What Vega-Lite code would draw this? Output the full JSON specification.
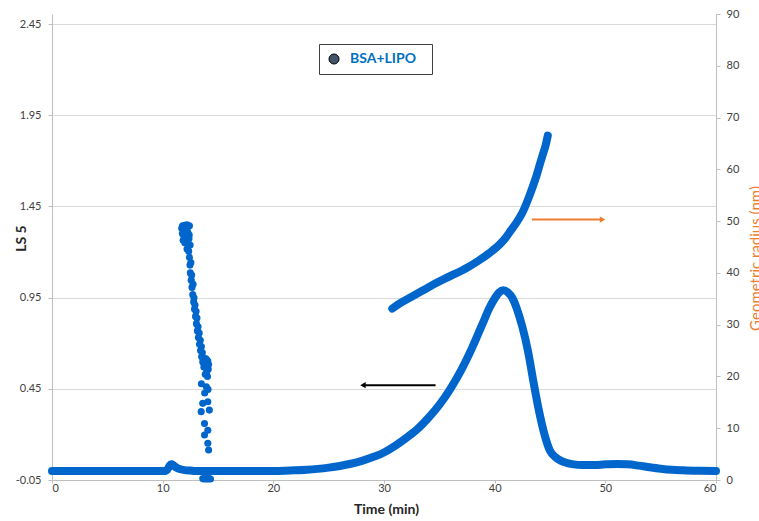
{
  "$schema": "https://vega.github.io/schema/vega-lite/v6.json",
  "width": 664,
  "height": 466,
  "autosize": {"type": "none"},
  "padding": {"left": 52, "top": 14, "right": 43, "bottom": 41},
  "background": "white",
  "config": {
    "view": {"stroke": null},
    "font": "Lato",
    "axis": {
      "labelFont": "Lato",
      "labelFontSize": 11,
      "labelColor": "#404040",
      "titleFont": "Lato",
      "domainColor": "#bfbfbf",
      "tickColor": "#bfbfbf",
      "tickSize": 4,
      "gridColor": "#d9d9d9",
      "gridWidth": 1
    }
  },
  "datasets": {
    "ls5": [
      {"t": 0, "v": 0}, {"t": 5, "v": 0}, {"t": 10, "v": 0}, {"t": 10.3, "v": 0.0},
      {"t": 10.5, "v": 0.015}, {"t": 10.65, "v": 0.03}, {"t": 10.8, "v": 0.036}, {"t": 10.95, "v": 0.032},
      {"t": 11.1, "v": 0.024}, {"t": 11.3, "v": 0.016}, {"t": 11.6, "v": 0.009}, {"t": 12.0, "v": 0.004},
      {"t": 12.5, "v": 0.002}, {"t": 13, "v": 0}, {"t": 15, "v": 0}, {"t": 20, "v": 0},
      {"t": 21, "v": 0.001}, {"t": 22, "v": 0.003}, {"t": 23, "v": 0.006}, {"t": 24, "v": 0.011},
      {"t": 25, "v": 0.018}, {"t": 26, "v": 0.027}, {"t": 27, "v": 0.039}, {"t": 28, "v": 0.055},
      {"t": 29, "v": 0.076}, {"t": 30, "v": 0.101}, {"t": 31, "v": 0.137}, {"t": 32, "v": 0.18},
      {"t": 33, "v": 0.228}, {"t": 34, "v": 0.29}, {"t": 35, "v": 0.362}, {"t": 36, "v": 0.45},
      {"t": 37, "v": 0.555}, {"t": 38, "v": 0.68}, {"t": 39, "v": 0.82}, {"t": 39.5, "v": 0.89},
      {"t": 40, "v": 0.945}, {"t": 40.4, "v": 0.978}, {"t": 40.8, "v": 0.99}, {"t": 41.2, "v": 0.978},
      {"t": 41.6, "v": 0.948}, {"t": 42, "v": 0.89}, {"t": 42.5, "v": 0.79}, {"t": 43, "v": 0.66},
      {"t": 43.5, "v": 0.49}, {"t": 44, "v": 0.33}, {"t": 44.5, "v": 0.2}, {"t": 45, "v": 0.11},
      {"t": 45.5, "v": 0.075}, {"t": 46, "v": 0.055}, {"t": 46.5, "v": 0.044}, {"t": 47, "v": 0.037},
      {"t": 48, "v": 0.032}, {"t": 49, "v": 0.032}, {"t": 50, "v": 0.036}, {"t": 51, "v": 0.038},
      {"t": 52, "v": 0.036}, {"t": 53, "v": 0.029}, {"t": 54, "v": 0.02}, {"t": 55, "v": 0.012},
      {"t": 56, "v": 0.006}, {"t": 57, "v": 0.003}, {"t": 58, "v": 0.001}, {"t": 60, "v": 0}
    ],
    "radius": [
      {"t": 30.75, "r": 33.1}, {"t": 31.5, "r": 34.2}, {"t": 32.5, "r": 35.4}, {"t": 33.5, "r": 36.6},
      {"t": 34.5, "r": 37.8}, {"t": 35.5, "r": 38.9}, {"t": 36.5, "r": 39.9}, {"t": 37.5, "r": 41.0},
      {"t": 38.5, "r": 42.3}, {"t": 39.5, "r": 43.8}, {"t": 40.5, "r": 45.6}, {"t": 41.0, "r": 46.8},
      {"t": 41.5, "r": 48.3}, {"t": 42.0, "r": 49.8}, {"t": 42.5, "r": 51.6}, {"t": 43.0, "r": 54.1},
      {"t": 43.5, "r": 57.0}, {"t": 43.8, "r": 58.9}, {"t": 44.1, "r": 61.1}, {"t": 44.4, "r": 63.2},
      {"t": 44.6, "r": 64.6}, {"t": 44.8, "r": 66.5}
    ],
    "cluster": [
      {"t": 11.72, "r": 48.6, "series": "BSA+LIPO"}, {"t": 11.8, "r": 49.1, "series": "BSA+LIPO"},
      {"t": 11.9, "r": 48.7, "series": "BSA+LIPO"}, {"t": 12.0, "r": 49.2, "series": "BSA+LIPO"},
      {"t": 12.1, "r": 48.8, "series": "BSA+LIPO"}, {"t": 12.2, "r": 49.3, "series": "BSA+LIPO"},
      {"t": 12.3, "r": 48.9, "series": "BSA+LIPO"}, {"t": 12.42, "r": 49.1, "series": "BSA+LIPO"},
      {"t": 11.78, "r": 47.6, "series": "BSA+LIPO"}, {"t": 11.9, "r": 47.2, "series": "BSA+LIPO"},
      {"t": 12.02, "r": 47.9, "series": "BSA+LIPO"}, {"t": 12.15, "r": 47.4, "series": "BSA+LIPO"},
      {"t": 12.28, "r": 47.8, "series": "BSA+LIPO"}, {"t": 12.4, "r": 47.3, "series": "BSA+LIPO"},
      {"t": 11.85, "r": 46.3, "series": "BSA+LIPO"}, {"t": 12.0, "r": 45.8, "series": "BSA+LIPO"},
      {"t": 12.12, "r": 46.4, "series": "BSA+LIPO"}, {"t": 12.25, "r": 45.9, "series": "BSA+LIPO"},
      {"t": 12.38, "r": 46.6, "series": "BSA+LIPO"}, {"t": 12.48, "r": 45.4, "series": "BSA+LIPO"},
      {"t": 12.2, "r": 44.6, "series": "BSA+LIPO"}, {"t": 12.35, "r": 44.2, "series": "BSA+LIPO"},
      {"t": 12.42, "r": 43.0, "series": "BSA+LIPO"}, {"t": 12.47, "r": 41.5, "series": "BSA+LIPO"},
      {"t": 12.5, "r": 40.0, "series": "BSA+LIPO"}, {"t": 12.58, "r": 38.6, "series": "BSA+LIPO"},
      {"t": 12.65, "r": 37.2, "series": "BSA+LIPO"}, {"t": 12.72, "r": 35.8, "series": "BSA+LIPO"},
      {"t": 12.8, "r": 34.4, "series": "BSA+LIPO"}, {"t": 12.88, "r": 33.0, "series": "BSA+LIPO"},
      {"t": 12.97, "r": 31.6, "series": "BSA+LIPO"}, {"t": 13.05, "r": 30.2, "series": "BSA+LIPO"},
      {"t": 13.14, "r": 28.8, "series": "BSA+LIPO"}, {"t": 13.23, "r": 27.5, "series": "BSA+LIPO"},
      {"t": 13.33, "r": 26.2, "series": "BSA+LIPO"}, {"t": 13.42, "r": 25.0, "series": "BSA+LIPO"},
      {"t": 13.52, "r": 23.8, "series": "BSA+LIPO"}, {"t": 13.62, "r": 22.8, "series": "BSA+LIPO"},
      {"t": 13.72, "r": 21.8, "series": "BSA+LIPO"},
      {"t": 12.55, "r": 42.0, "series": "BSA+LIPO"}, {"t": 12.62, "r": 39.6, "series": "BSA+LIPO"},
      {"t": 12.75, "r": 37.8, "series": "BSA+LIPO"}, {"t": 12.83, "r": 35.2, "series": "BSA+LIPO"},
      {"t": 12.92, "r": 33.8, "series": "BSA+LIPO"}, {"t": 13.02, "r": 32.6, "series": "BSA+LIPO"},
      {"t": 13.1, "r": 31.3, "series": "BSA+LIPO"}, {"t": 13.2, "r": 29.6, "series": "BSA+LIPO"},
      {"t": 13.3, "r": 28.4, "series": "BSA+LIPO"}, {"t": 13.4, "r": 27.0, "series": "BSA+LIPO"},
      {"t": 13.5, "r": 25.8, "series": "BSA+LIPO"}, {"t": 13.58, "r": 24.6, "series": "BSA+LIPO"},
      {"t": 13.68, "r": 23.6, "series": "BSA+LIPO"},
      {"t": 13.82, "r": 22.6, "series": "BSA+LIPO"}, {"t": 13.92, "r": 23.4, "series": "BSA+LIPO"},
      {"t": 14.0, "r": 22.2, "series": "BSA+LIPO"}, {"t": 14.08, "r": 23.0, "series": "BSA+LIPO"},
      {"t": 14.12, "r": 21.4, "series": "BSA+LIPO"}, {"t": 13.95, "r": 20.6, "series": "BSA+LIPO"},
      {"t": 14.05, "r": 20.0, "series": "BSA+LIPO"}, {"t": 14.15, "r": 22.3, "series": "BSA+LIPO"},
      {"t": 13.85, "r": 20.4, "series": "BSA+LIPO"}, {"t": 14.02, "r": 21.2, "series": "BSA+LIPO"},
      {"t": 13.5, "r": 18.6, "series": "BSA+LIPO"}, {"t": 13.8, "r": 16.8, "series": "BSA+LIPO"},
      {"t": 14.08, "r": 15.1, "series": "BSA+LIPO"}, {"t": 13.62, "r": 14.8, "series": "BSA+LIPO"},
      {"t": 13.48, "r": 13.2, "series": "BSA+LIPO"}, {"t": 14.22, "r": 13.5, "series": "BSA+LIPO"},
      {"t": 13.78, "r": 10.9, "series": "BSA+LIPO"}, {"t": 14.08, "r": 9.6, "series": "BSA+LIPO"},
      {"t": 13.78, "r": 8.7, "series": "BSA+LIPO"}, {"t": 14.08, "r": 7.1, "series": "BSA+LIPO"},
      {"t": 14.15, "r": 5.8, "series": "BSA+LIPO"}, {"t": 13.95, "r": 18.0, "series": "BSA+LIPO"},
      {"t": 14.1, "r": 17.5, "series": "BSA+LIPO"},
      {"t": 13.62, "r": 0.3, "series": "BSA+LIPO"}, {"t": 13.72, "r": 0.2, "series": "BSA+LIPO"},
      {"t": 13.82, "r": 0.3, "series": "BSA+LIPO"}, {"t": 13.92, "r": 0.2, "series": "BSA+LIPO"},
      {"t": 14.02, "r": 0.3, "series": "BSA+LIPO"}, {"t": 14.12, "r": 0.2, "series": "BSA+LIPO"},
      {"t": 14.22, "r": 0.3, "series": "BSA+LIPO"}, {"t": 14.32, "r": 0.2, "series": "BSA+LIPO"}
    ],
    "arrowLeft": [{"t": 34.66, "t2": 28.2, "head": 28.1, "v": 0.47}],
    "arrowRight": [{"t": 43.36, "t2": 49.6, "head": 49.75, "r": 50.3}]
  },
  "layer": [
    {
      "layer": [
        {
          "data": {"name": "ls5"},
          "mark": {"type": "line", "color": "#0066CC", "strokeWidth": 8, "strokeCap": "round", "strokeJoin": "round", "interpolate": "monotone"},
          "encoding": {
            "x": {"field": "t", "type": "quantitative", "title": "Time (min)",
                  "scale": {"domain": [0, 60], "nice": false},
                  "axis": {"values": [0, 10, 20, 30, 40, 50, 60], "grid": false, "tickSize": 3, "labelPadding": -1,
                           "titleFontSize": 14, "titleFontWeight": "bold", "titleColor": "#262626",
                           "titleX": 334, "titleY": 33, "titleBaseline": "alphabetic", "titleAlign": "center"}},
            "y": {"field": "v", "type": "quantitative", "title": "LS 5",
                  "scale": {"domain": [-0.05, 2.505], "nice": false, "zero": false},
                  "axis": {"orient": "left", "values": [-0.05, 0.45, 0.95, 1.45, 1.95, 2.45], "grid": true,
                           "labelExpr": "replace(format(datum.value, '.2f'), '\u2212', '-')", "labelPadding": 7,
                           "titleFontSize": 14, "titleFontWeight": "bold", "titleColor": "#262626", "titleAngle": 270,
                           "titleX": -27, "titleY": 224, "titleBaseline": "alphabetic", "titleAlign": "center"}}
          }
        },
        {
          "data": {"name": "arrowLeft"},
          "mark": {"type": "rule", "color": "#000000", "strokeWidth": 2},
          "encoding": {
            "x": {"field": "t", "type": "quantitative", "title": "Time (min)"},
            "x2": {"field": "t2"},
            "y": {"field": "v", "type": "quantitative", "title": "LS 5"}
          }
        },
        {
          "data": {"name": "arrowLeft"},
          "mark": {"type": "point", "shape": "triangle-left", "filled": true, "opacity": 1, "color": "#000000", "size": 40},
          "encoding": {
            "x": {"field": "head", "type": "quantitative", "title": "Time (min)"},
            "y": {"field": "v", "type": "quantitative", "title": "LS 5"}
          }
        }
      ]
    },
    {
      "layer": [
        {
          "data": {"name": "radius"},
          "mark": {"type": "line", "color": "#0066CC", "strokeWidth": 8, "strokeCap": "round", "strokeJoin": "round", "interpolate": "monotone"},
          "encoding": {
            "x": {"field": "t", "type": "quantitative", "title": "Time (min)"},
            "y": {"field": "r", "type": "quantitative", "title": "Geometric radius (nm)",
                  "scale": {"domain": [0, 90], "nice": false},
                  "axis": {"orient": "right", "values": [0, 10, 20, 30, 40, 50, 60, 70, 80, 90], "grid": false,
                           "labelPadding": 6, "titleFontSize": 15, "titleFontWeight": "normal", "titleColor": "#ED7D31",
                           "titleAngle": 270, "titleX": 44, "titleY": 244, "titleBaseline": "alphabetic", "titleAlign": "center"}}
          }
        },
        {
          "data": {"name": "cluster"},
          "mark": {"type": "point", "filled": true, "opacity": 1, "size": 50, "shape": "circle", "color": "#0066CC"},
          "encoding": {
            "x": {"field": "t", "type": "quantitative", "title": "Time (min)"},
            "y": {"field": "r", "type": "quantitative", "title": "Geometric radius (nm)"}
          }
        },
        {
          "data": {"name": "cluster"},
          "mark": {"type": "point", "filled": true, "opacity": 0, "size": 50, "shape": "circle"},
          "encoding": {
            "x": {"field": "t", "type": "quantitative", "title": "Time (min)"},
            "y": {"field": "r", "type": "quantitative", "title": "Geometric radius (nm)"},
            "color": {"field": "series", "type": "nominal",
                      "scale": {"domain": ["BSA+LIPO"], "range": ["#44546A"]},
                      "legend": {"orient": "none", "legendX": 267, "legendY": 30, "title": "\u2003", "titleOrient": "right",
                                 "titleFontSize": 8, "titlePadding": 8, "padding": 8, "symbolType": "circle", "symbolSize": 100,
                                 "symbolOffset": 0, "labelOffset": 9, "labelFont": "Lato", "labelFontSize": 14,
                                 "labelFontWeight": "bold", "labelColor": "#0070C0",
                                 "symbolOpacity": 1, "symbolStrokeColor": "#000000", "symbolStrokeWidth": 1,
                                 "strokeColor": "#404040", "fillColor": "#ffffff"}}
          }
        },
        {
          "data": {"name": "arrowRight"},
          "mark": {"type": "rule", "color": "#ED7D31", "strokeWidth": 2},
          "encoding": {
            "x": {"field": "t", "type": "quantitative", "title": "Time (min)"},
            "x2": {"field": "t2"},
            "y": {"field": "r", "type": "quantitative", "title": "Geometric radius (nm)"}
          }
        },
        {
          "data": {"name": "arrowRight"},
          "mark": {"type": "point", "shape": "triangle-right", "filled": true, "opacity": 1, "color": "#ED7D31", "size": 40},
          "encoding": {
            "x": {"field": "head", "type": "quantitative", "title": "Time (min)"},
            "y": {"field": "r", "type": "quantitative", "title": "Geometric radius (nm)"}
          }
        }
      ]
    }
  ],
  "resolve": {"scale": {"y": "independent"}}
}
